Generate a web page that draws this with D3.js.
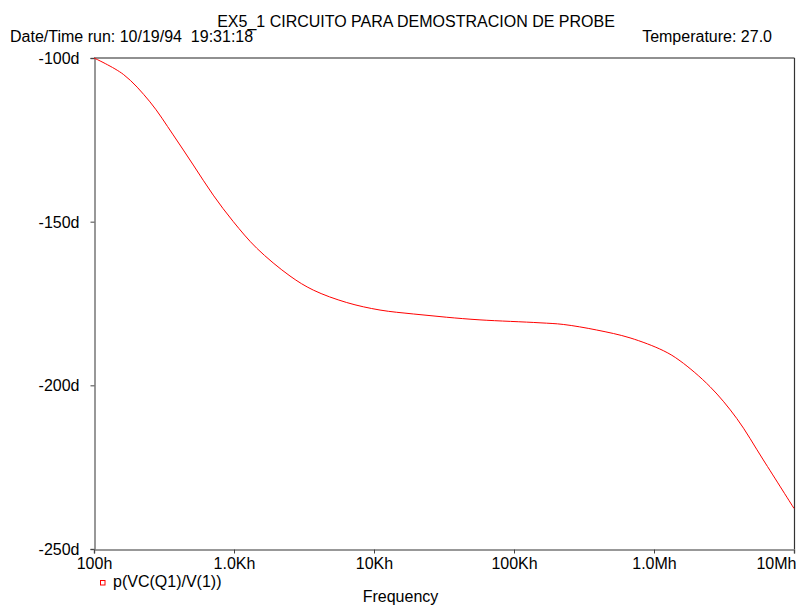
<!DOCTYPE html>
<html>
<head>
<meta charset="utf-8">
<script src="https://cdn.jsdelivr.net/npm/d3@7"></script>
<style>
body { margin: 0; background: #fff; }
svg text { font-family: "Liberation Sans", Arial, sans-serif; font-size: 16px; fill: #000; }
</style>
</head>
<body>
<svg></svg>
<script>
// DATA
var freqs = [100, 162, 251, 368, 512, 711, 989, 1453, 2512, 3684, 6383, 11040, 19090, 33050, 57150,
	153400, 225000, 389700, 674100, 1165000, 1534000, 2512000, 3898000, 6039000, 10000000];
var phase = [-100, -105.0, -113.4, -123.5, -132.7, -141.9, -150.0, -158.1, -166.6, -170.9, -174.7, -177.0,
	-178.2, -179.2, -180.0, -180.9, -181.4, -183.1, -185.5, -189.4, -192.5, -200.4, -210.1, -222.8, -237.6];
var xTicks = [100, 1e3, 1e4, 1e5, 1e6, 1e7];
var xTickLabels = ["100h", "1.0Kh", "10Kh", "100Kh", "1.0Mh", "10Mh"];
var yTicks = [-100, -150, -200, -250];

var width = 798, height = 608;
var svg = d3.select("svg").attr("width", width).attr("height", height);

// SCALES
var x = d3.scaleLog().domain([100, 1e7]).range([94, 794]);
var y = d3.scaleLinear().domain([-250, -100]).range([549, 58]);

// frame: top/right dark, left/bottom gray
svg.append("line").attr("x1", 94).attr("x2", 794.5).attr("y1", 58).attr("y2", 58)
.attr("stroke", "#222").attr("stroke-width", 1.2);
svg.append("line").attr("x1", 794.5).attr("x2", 794.5).attr("y1", 58).attr("y2", 549)
.attr("stroke", "#333").attr("stroke-width", 1.2);

// AXES
var yAxis = svg.append("g").attr("transform", "translate(94.5,0)")
.call(d3.axisLeft(y).tickValues(yTicks).tickSize(4).tickPadding(11).tickFormat((d)=>d + "d"));
var xAxis = svg.append("g").attr("transform", "translate(0,549.5)")
.call(d3.axisBottom(x).tickValues(xTicks).tickSize(4).tickPadding(4).tickFormat((d,i)=>xTickLabels[i]));

[yAxis, xAxis].forEach(function(a) {
	a.select(".domain").attr("stroke", "#777").attr("stroke-width", 1.5);
	a.selectAll(".tick line").attr("stroke", "#444");
	a.selectAll("text").attr("font-size", 16).attr("font-family", null).attr("fill", "#000");
});
yAxis.selectAll(".tick text").attr("dy", "0.35em");
xAxis.selectAll(".tick text").attr("dy", "0.72em");
// last label is pushed inside the page
xAxis.selectAll(".tick text").filter((d)=>d == 1e7).attr("text-anchor", "end").attr("x", 2);

// CURVE
var pts = freqs.map((f,i)=>[f, phase[i]]);
svg.append("path")
.datum(pts)
.attr("fill", "none")
.attr("stroke", "#f00")
.attr("stroke-width", 1)
.attr("d", d3.line().x((d)=>x(d[0])).y((d)=>y(d[1])).curve(d3.curveCatmullRom.alpha(0.5)));

// TEXTS
svg.append("text").attr("x", 416).attr("y", 26.5).attr("text-anchor", "middle")
.text("EX5_1 CIRCUITO PARA DEMOSTRACION DE PROBE");
svg.append("text").attr("x", 10).attr("y", 41.5).text("Date/Time run: 10/19/94\u00a0\u00a019:31:18");
svg.append("text").attr("x", 772).attr("y", 41.5).attr("text-anchor", "end").text("Temperature: 27.0");

// LEGEND
svg.append("rect").attr("x", 100.5).attr("y", 580.5).attr("width", 4.5).attr("height", 4.5)
.attr("fill", "none").attr("stroke", "#f00").attr("stroke-width", 1);
svg.append("text").attr("x", 113).attr("y", 587).text("p(VC(Q1)/V(1))");
svg.append("text").attr("x", 400.5).attr("y", 602).attr("text-anchor", "middle").text("Frequency");
</script>
</body>
</html>
